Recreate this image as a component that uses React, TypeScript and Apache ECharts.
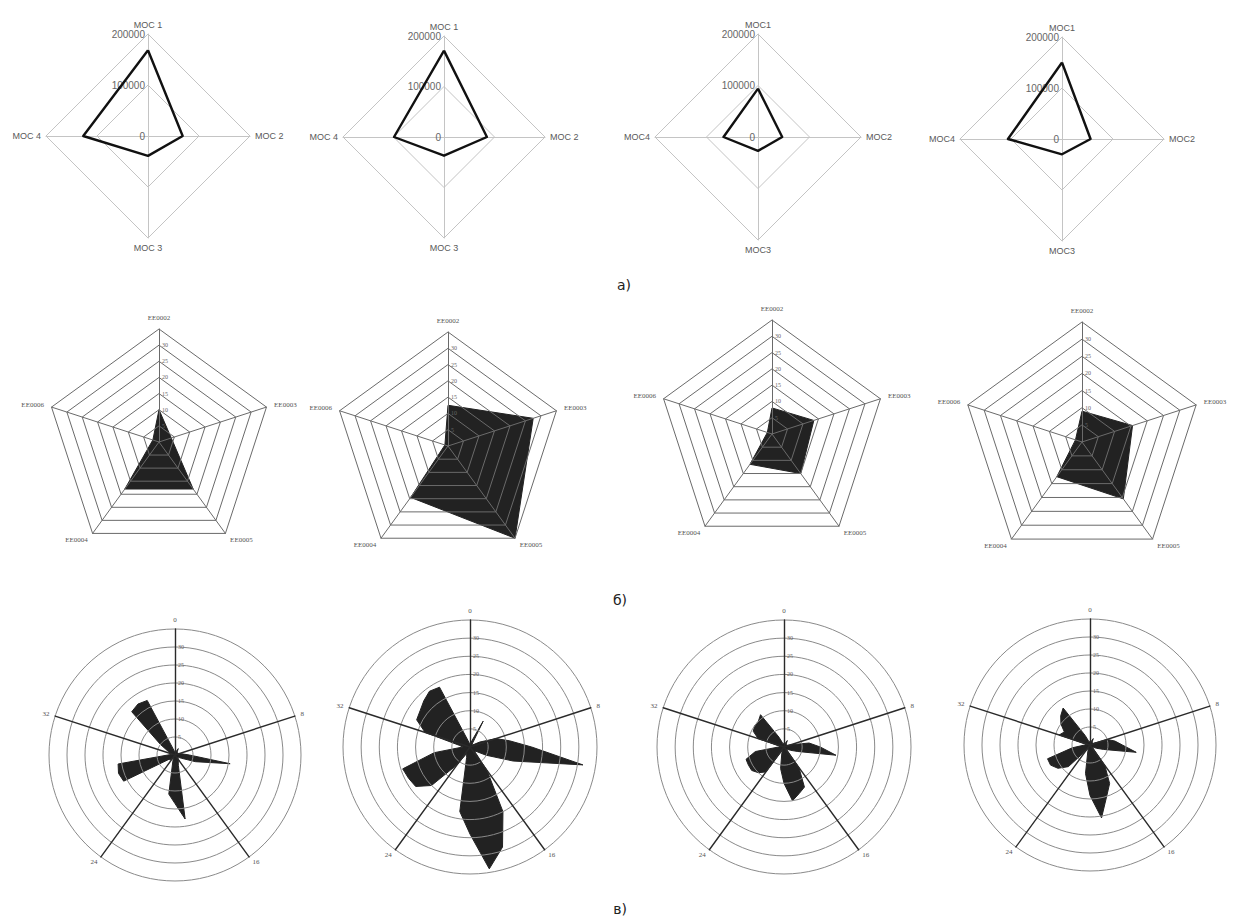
import React, { useEffect, useRef } from "react";
import * as echarts from "echarts";

// ---------- DATA ----------
// Row а): four-axis radar (clockwise from top)
const mocNamesSpaced = ["MOC 1", "MOC 2", "MOC 3", "MOC 4"];
const mocNamesTight = ["MOC1", "MOC2", "MOC3", "MOC4"];
const mocMax = 200000;
const mocChart1 = [168000, 68000, 39000, 127000];
const mocChart2 = [171000, 85000, 37000, 99000];
const mocChart3 = [94000, 47000, 27000, 67000];
const mocChart4 = [150000, 56000, 30000, 106000];

// Row б): five-axis radar (clockwise from top)
const eeNames = ["EE0002", "EE0003", "EE0005", "EE0004", "EE0006"];
const eeMax = 35;
const eeChart1 = [10, 4, 18, 18, 2];
const eeChart2 = [12.5, 27.5, 35, 19.5, 1];
const eeChart3 = [8, 13.5, 15, 11.5, 1.5];
const eeChart4 = [9, 15.5, 20.5, 12.5, 2];

// Row в): 40 directions (clockwise from top), five labelled axes
const dirLabels = ["0", "8", "16", "24", "32"];
const dirCategories = [
  "0", "1", "2", "3", "4", "5", "6", "7", "8", "9",
  "10", "11", "12", "13", "14", "15", "16", "17", "18", "19",
  "20", "21", "22", "23", "24", "25", "26", "27", "28", "29",
  "30", "31", "32", "33", "34", "35", "36", "37", "38", "39",
];
const dirMax = 35;
const dirChart1 = [
  1, 1, 1, 2, 1, 1, 1, 1, 1, 2,
  4, 15.5, 6, 2, 1, 1, 2, 2, 3, 18,
  13.5, 11, 2, 1, 1, 2, 2, 16, 16.5, 16,
  2, 1, 1, 2, 5, 17, 17.5, 17, 2, 1,
];
const dirChart2 = [
  1, 1, 2, 8, 1, 1, 1, 3, 7.5, 11,
  17, 31.5, 12.5, 5, 2, 2, 8, 20, 29, 34,
  24, 18, 3, 2, 6, 15, 18.5, 19, 19.5, 10,
  2, 3, 13, 16.5, 17, 18, 19, 18.5, 2, 1,
];
const dirChart3 = [
  1, 1, 1, 2, 1, 1, 1, 1, 2, 7,
  10, 14.5, 4, 2, 1, 1, 7, 12.4, 13.5, 15,
  10, 6, 2, 1, 8.5, 10, 11, 11, 11, 8,
  1.5, 1, 7.5, 9.5, 10, 10, 11, 3, 1, 1,
];
const dirChart4 = [
  1, 1, 1, 2, 1, 1, 1, 1, 5, 7,
  9, 13, 4, 2, 1, 1, 7, 12, 15, 20.5,
  14, 8, 2, 1, 2, 8.5, 11, 12.3, 12.4, 5,
  1.5, 1, 9, 8, 10, 11.5, 12.7, 3, 1, 1,
];

const captions = ["а)", "б)", "в)"];

// ECharts lays radar indicators out counter-clockwise; reorder clockwise lists.
function ccw<T>(a: T[]): T[] {
  return [a[0], ...a.slice(1).reverse()];
}

function buildOption() {
  const radar: any[] = [];
  const series: any[] = [];

  const sansFont = "'Liberation Sans', 'DejaVu Sans', sans-serif";
  const serifFont = "'Liberation Serif', 'DejaVu Serif', serif";

  // ----- Row а -----
  const rowA = [
    { center: [148, 136], r: 102, names: mocNamesSpaced, values: mocChart1 },
    { center: [444, 137], r: 101, names: mocNamesSpaced, values: mocChart2 },
    { center: [758, 137], r: 103, names: mocNamesTight, values: mocChart3 },
    { center: [1062, 139], r: 102, names: mocNamesTight, values: mocChart4 },
  ];
  rowA.forEach((cfg) => {
    const idx = radar.length;
    radar.push({
      center: cfg.center,
      radius: cfg.r,
      startAngle: 90,
      shape: "polygon",
      splitNumber: 2,
      indicator: ccw(cfg.names).map((n, k) =>
        k === 0
          ? { name: n, min: 0, max: mocMax, axisLabel: { show: true } }
          : { name: n, min: 0, max: mocMax }
      ),
      axisName: { color: "#595959", fontSize: 9, fontFamily: sansFont },
      axisNameGap: 5,
      axisLine: { lineStyle: { color: "#c4c4c4", width: 1 } },
      splitLine: { lineStyle: { color: "#c4c4c4", width: 1 } },
      splitArea: { show: false },
      axisTick: { show: false },
      axisLabel: {
        show: false,
        color: "#666",
        fontSize: 10,
        fontFamily: sansFont,
        margin: 3,
        align: "right",
        formatter: (v: number) => String(v),
      },
    });
    series.push({
      type: "radar",
      radarIndex: idx,
      symbol: "none",
      lineStyle: { color: "#111", width: 2.4 },
      data: [{ value: ccw(cfg.values) }],
    });
  });

  // ----- Row б -----
  const rowB = [
    { center: [159, 442], r: 113, values: eeChart1 },
    { center: [448, 446], r: 114, values: eeChart2 },
    { center: [772, 434], r: 114, values: eeChart3 },
    { center: [1082, 442], r: 120, values: eeChart4 },
  ];
  rowB.forEach((cfg) => {
    const dataIdx = radar.length;
    radar.push({
      center: cfg.center,
      radius: cfg.r,
      startAngle: 90,
      shape: "polygon",
      splitNumber: 7,
      indicator: ccw(eeNames).map((n) => ({ name: n, min: 0, max: eeMax })),
      axisName: { show: false },
      axisLine: { show: false },
      splitLine: { show: false },
      splitArea: { show: false },
      axisTick: { show: false },
      axisLabel: { show: false },
    });
    radar.push({
      z: 3,
      center: cfg.center,
      radius: cfg.r,
      startAngle: 90,
      shape: "polygon",
      splitNumber: 7,
      indicator: ccw(eeNames).map((n, k) =>
        k === 0
          ? { name: n, min: 0, max: eeMax, axisLabel: { show: true } }
          : { name: n, min: 0, max: eeMax }
      ),
      axisName: { color: "#555", fontSize: 7, fontFamily: serifFont },
      axisNameGap: 8,
      axisLine: { lineStyle: { color: "#6a6a6a", width: 1 } },
      splitLine: { lineStyle: { color: "#6a6a6a", width: 1 } },
      splitArea: { show: false },
      axisTick: { show: false },
      axisLabel: {
        show: false,
        color: "#666",
        fontSize: 6,
        fontFamily: serifFont,
        margin: -3,
        align: "left",
        formatter: (v: number) => (v === 0 || v === eeMax ? "" : String(v)),
      },
    });
    series.push({
      type: "radar",
      radarIndex: dataIdx,
      symbol: "none",
      lineStyle: { color: "#222", width: 1 },
      areaStyle: { color: "#222", opacity: 1 },
      data: [{ value: ccw(cfg.values) }],
    });
  });

  // ----- Row в -----
  const rowC = [
    { center: [175, 755], r: 126, values: dirChart1 },
    { center: [470, 747], r: 127, values: dirChart2 },
    { center: [784, 747], r: 127, values: dirChart3 },
    { center: [1090, 745], r: 126, values: dirChart4 },
  ];
  rowC.forEach((cfg) => {
    const dataIdx = radar.length;
    radar.push({
      center: cfg.center,
      radius: cfg.r,
      startAngle: 90,
      shape: "circle",
      splitNumber: 7,
      indicator: ccw(dirCategories).map((n) => ({ name: n, min: 0, max: dirMax })),
      axisName: { show: false },
      axisLine: { show: false },
      splitLine: { show: false },
      splitArea: { show: false },
      axisTick: { show: false },
      axisLabel: { show: false },
    });
    radar.push({
      z: 3,
      center: cfg.center,
      radius: cfg.r,
      startAngle: 90,
      shape: "circle",
      splitNumber: 7,
      indicator: ccw(dirLabels).map((n, k) =>
        k === 0
          ? { name: n, min: 0, max: dirMax, axisLabel: { show: true } }
          : { name: n, min: 0, max: dirMax }
      ),
      axisName: { color: "#555", fontSize: 7, fontFamily: serifFont },
      axisNameGap: 6,
      axisLine: { lineStyle: { color: "#2a2a2a", width: 1.4 } },
      splitLine: { lineStyle: { color: "#8a8a8a", width: 1 } },
      splitArea: { show: false },
      axisTick: { show: false },
      axisLabel: {
        show: false,
        color: "#666",
        fontSize: 6,
        fontFamily: serifFont,
        margin: -3,
        align: "left",
        formatter: (v: number) => (v === 0 || v === dirMax ? "" : String(v)),
      },
    });
    series.push({
      type: "radar",
      radarIndex: dataIdx,
      symbol: "none",
      lineStyle: { color: "#222", width: 1 },
      areaStyle: { color: "#222", opacity: 1 },
      data: [{ value: ccw(cfg.values) }],
    });
  });

  const captionPos = [
    [624, 285],
    [620, 600],
    [620, 909],
  ];
  const graphic = captions.map((t, i) => ({
    type: "text",
    x: captionPos[i][0],
    y: captionPos[i][1],
    style: {
      text: t,
      fill: "#222",
      font: "14px 'DejaVu Sans', sans-serif",
      textAlign: "center",
      textVerticalAlign: "middle",
    },
  }));

  return {
    animation: false,
    backgroundColor: "#ffffff",
    radar,
    series,
    graphic,
  };
}

export default function App() {
  const ref = useRef<HTMLDivElement>(null);
  useEffect(() => {
    if (!ref.current) return;
    const chart = echarts.init(ref.current, undefined, { renderer: "svg" });
    chart.setOption(buildOption() as any);
    return () => {
      chart.dispose();
    };
  }, []);
  return (
    <div
      ref={ref}
      style={{
        position: "fixed",
        left: 0,
        top: 0,
        width: 1236,
        height: 918,
        background: "#fff",
      }}
    />
  );
}
